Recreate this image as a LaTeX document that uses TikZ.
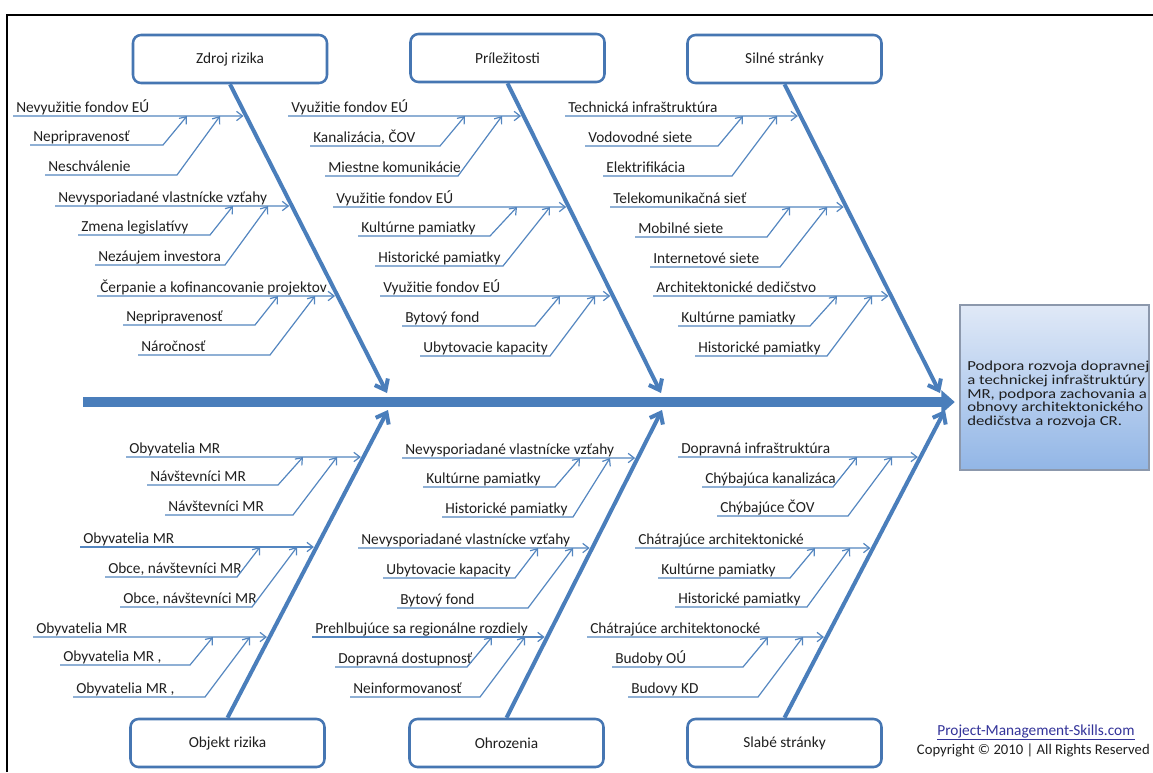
\documentclass[tikz,border=0pt]{standalone}
\usepackage{fontspec}
\setmainfont{Carlito}
\newfontfamily\goalfont[FakeStretch=1.22]{Carlito}
\usetikzlibrary{arrows.meta}
\definecolor{bone}{RGB}{74,126,187}
\definecolor{subbone}{RGB}{84,134,192}
\definecolor{boxedge}{RGB}{70,118,178}
\definecolor{linkcol}{RGB}{51,51,153}
\definecolor{goaltop}{RGB}{224,233,247}
\definecolor{goalbot}{RGB}{146,182,230}
\newcommand\fishmain[6]{%
  \node[lbl] (#1) at ({#2+3},{#3-4}) {#6};
  \coordinate (#1a) at (#2,#3);
  \draw[subln, shorten >=2pt] (#1a) -- (intersection of #2,#3--0,#3 and #4--#5);
}
\newcommand\fishsub[7]{%
  \node[lbl] (#1) at ({#2+3},{#4-4}) {#7};
  \coordinate (#1a) at (#2,#4);
  \coordinate (#1b) at (#3,#4);
  \coordinate (#1t) at (#5,#6);
  \draw[subln] (#1a) -- (#1b) -- (#1t);
}
\begin{document}
\begin{tikzpicture}[x=0.75pt,y=-0.75pt,
  font=\fontsize{11.5}{13.5}\selectfont,
  lbl/.style={anchor=base west, inner sep=0pt, text=black!88},
  subln/.style={draw=subbone, line width=0.9pt, -{Straight Barb[length=4.5pt,width=7pt]}},
  cat/.style={draw=boxedge, line width=1.9pt, rounded corners=6pt, fill=white,
    minimum width=145.5pt, minimum height=36pt, inner sep=0pt, text=black!88},
  bonel/.style={draw=bone, line width=3pt, -{Straight Barb[length=7pt,width=11pt]}},
  spine/.style={draw=bone, line width=7pt, -{Triangle[length=10pt,width=17pt]}}
]
\useasboundingbox (0,0) rectangle (1153,772);
\fill[white] (0,0) rectangle (1153,772);
% frame
\draw[black, line width=2pt] (7,772) -- (7,15) -- (1153,15);

% category boxes
\node[cat] (zr) at (230,59) {Zdroj rizika};
\node[cat] (pr) at (507.5,58) {Príležitosti};
\node[cat] (ss) at (784.5,59) {Silné stránky};
\node[cat] (ob) at (227.5,743) {Objekt rizika};
\node[cat] (oh) at (506.5,743) {Ohrozenia};
\node[cat] (sl) at (784.5,743) {Slabé stránky};

% goal box
\node[draw={rgb,255:red,140;green,152;blue,172}, line width=0.8pt, top color=goaltop, bottom color=goalbot,
  minimum width=141.75pt, minimum height=123.75pt, inner sep=0pt] (goal) at (1054.5,387.5) {};
\node[anchor=north west, inner sep=0pt, align=left, text=black!88,
  font=\goalfont\fontsize{10.3}{10.2}\selectfont] (goaltext) at (967,361)
  {Podpora rozvoja dopravnej\\a technickej infraštruktúry\\MR, podpora zachovania a\\obnovy architektonického\\dedičstva a rozvoja CR.};

% bone ends
\coordinate (t0) at (387,393);
\coordinate (t1) at (661,393);
\coordinate (t2) at (940,393);
\coordinate (b0) at (388,410);
\coordinate (b1) at (662,410);
\coordinate (b2) at (945,410);
\coordinate (sp0) at (83,402);

% spine
\draw[spine] (sp0) -- ([xshift=-3.5pt]sp0 -| goal.west);

% bones
\draw[bonel] (zr.south) -- (t0);
\draw[bonel] (pr.south) -- (t1);
\draw[bonel] (ss.south) -- (t2);
\draw[bonel] (ob.north) -- (b0);
\draw[bonel] (oh.north) -- (b1);
\draw[bonel] (sl.north) -- (b2);

% ---- Zdroj rizika
\fishmain{za}{13}{116}{zr.south}{t0}{Nevyužitie fondov EÚ}
\fishsub{za1}{30}{163}{145}{187}{116}{Nepripravenosť}
\fishsub{za2}{45}{177}{175}{220}{116}{Neschválenie}
\fishmain{zb}{55}{206}{zr.south}{t0}{Nevysporiadané vlastnícke vzťahy}
\fishsub{zb1}{78}{210}{235}{233}{206}{Zmena legislatívy}
\fishsub{zb2}{95}{225}{265}{268}{206}{Nezáujem investora}
\fishmain{zc}{97}{296}{zr.south}{t0}{Čerpanie a kofinancovanie projektov}
\fishsub{zc1}{123}{255}{325}{278}{296}{Nepripravenosť}
\fishsub{zc2}{138}{270}{355}{315}{296}{Náročnosť}

% ---- Príležitosti
\fishmain{pa}{288}{116}{pr.south}{t1}{Využitie fondov EÚ}
\fishsub{pa1}{310}{440}{146}{465}{116}{Kanalizácia, ČOV}
\fishsub{pa2}{325}{458}{176}{502}{116}{Miestne komunikácie}
\fishmain{pb}{333}{207}{pr.south}{t1}{Využitie fondov EÚ}
\fishsub{pb1}{358}{490}{236}{517}{207}{Kultúrne pamiatky}
\fishsub{pb2}{375}{503}{266}{550}{207}{Historické pamiatky}
\fishmain{pc}{380}{296}{pr.south}{t1}{Využitie fondov EÚ}
\fishsub{pc1}{402}{535}{326}{560}{296}{Bytový fond}
\fishsub{pc2}{420}{550}{356}{595}{296}{Ubytovacie kapacity}

% ---- Silné stránky
\fishmain{sa}{565}{116}{ss.south}{t2}{Technická infraštruktúra}
\fishsub{sa1}{585}{718}{146}{743}{116}{Vodovodné siete}
\fishsub{sa2}{603}{732}{176}{777}{116}{Elektrifikácia}
\fishmain{sb}{610}{207}{ss.south}{t2}{Telekomunikačná sieť}
\fishsub{sb1}{635}{767}{237}{790}{207}{Mobilné siete}
\fishsub{sb2}{650}{780}{267}{827}{207}{Internetové siete}
\fishmain{sc}{653}{296}{ss.south}{t2}{Architektonické dedičstvo}
\fishsub{sc1}{678}{810}{326}{837}{296}{Kultúrne pamiatky}
\fishsub{sc2}{695}{827}{356}{872}{296}{Historické pamiatky}

% ---- Objekt rizika
\fishmain{oa}{126}{457}{ob.north}{b0}{Obyvatelia MR}
\fishsub{oa1}{147}{278}{485}{303}{457}{Návštevníci MR}
\fishsub{oa2}{165}{293}{515}{337}{457}{Návštevníci MR}
\fishmain{obb}{80}{547}{ob.north}{b0}{Obyvatelia MR}
\fishsub{ob1}{105}{237}{577}{260}{547}{Obce, návštevníci MR}
\fishsub{ob2}{120}{252}{607}{297}{547}{Obce, návštevníci MR}
\fishmain{oc}{33}{637}{ob.north}{b0}{Obyvatelia MR}
\fishsub{oc1}{60}{190}{665}{213}{637}{Obyvatelia MR ,}
\fishsub{oc2}{73}{205}{697}{250}{637}{Obyvatelia MR ,}

% ---- Ohrozenia
\fishmain{ha}{402}{458}{oh.north}{b1}{Nevysporiadané vlastnícke vzťahy}
\fishsub{ha1}{423}{555}{487}{580}{458}{Kultúrne pamiatky}
\fishsub{ha2}{442}{573}{517}{610}{458}{Historické pamiatky}
\fishmain{hb}{358}{548}{oh.north}{b1}{Nevysporiadané vlastnícke vzťahy}
\fishsub{hb1}{383}{515}{578}{538}{548}{Ubytovacie kapacity}
\fishsub{hb2}{397}{528}{608}{573}{548}{Bytový fond}
\fishmain{hc}{312}{637}{oh.north}{b1}{Prehlbujúce sa regionálne rozdiely}
\fishsub{hc1}{335}{467}{667}{492}{637}{Dopravná dostupnosť}
\fishsub{hc2}{350}{480}{697}{525}{637}{Neinformovanosť}

% ---- Slabé stránky
\fishmain{la}{678}{457}{sl.north}{b2}{Dopravná infraštruktúra}
\fishsub{la1}{702}{833}{487}{857}{457}{Chýbajúca kanalizáca}
\fishsub{la2}{717}{848}{516}{892}{457}{Chýbajúce ČOV}
\fishmain{lb}{635}{548}{sl.north}{b2}{Chátrajúce architektonické}
\fishsub{lb1}{658}{790}{578}{815}{548}{Kultúrne pamiatky}
\fishsub{lb2}{675}{807}{607}{850}{548}{Historické pamiatky}
\fishmain{lc}{587}{637}{sl.north}{b2}{Chátrajúce architektonocké}
\fishsub{lc1}{612}{743}{667}{768}{637}{Budoby OÚ}
\fishsub{lc2}{628}{758}{697}{803}{637}{Budovy KD}

% copyright
\node[anchor=base, inner sep=0pt, text=linkcol] (link) at (1036,735) {\underline{Project-Management-Skills.com}};
\node[anchor=base east, inner sep=0pt, text=black!88, font=\fontsize{11}{13}\selectfont] (copy) at (1150,754) {Copyright © 2010 | All Rights Reserved};
\end{tikzpicture}
\end{document}
